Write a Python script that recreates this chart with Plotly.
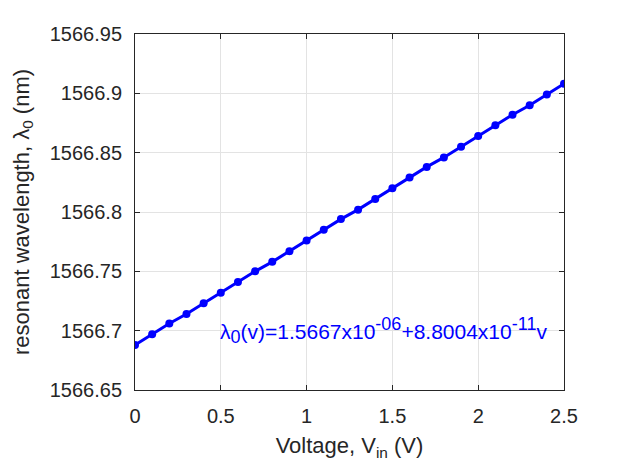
import plotly.graph_objects as go

voltage = [0.0, 0.1, 0.2, 0.3, 0.4, 0.5, 0.6, 0.7, 0.8, 0.9, 1.0, 1.1, 1.2,
           1.3, 1.4, 1.5, 1.6, 1.7, 1.8, 1.9, 2.0, 2.1, 2.2, 2.3, 2.4, 2.5]
wavelength = [1566.688, 1566.697, 1566.706, 1566.714, 1566.723, 1566.732,
              1566.741, 1566.750, 1566.758, 1566.767, 1566.776, 1566.785,
              1566.794, 1566.802, 1566.811, 1566.820, 1566.829, 1566.838,
              1566.846, 1566.855, 1566.864, 1566.873, 1566.882, 1566.890,
              1566.899, 1566.908]

x_ticks = [0, 0.5, 1, 1.5, 2, 2.5]
x_tick_labels = ["0", "0.5", "1", "1.5", "2", "2.5"]
y_ticks = [1566.65, 1566.7, 1566.75, 1566.8, 1566.85, 1566.9, 1566.95]
y_tick_labels = ["1566.65", "1566.7", "1566.75", "1566.8", "1566.85", "1566.9", "1566.95"]

sup_style = "font-size:18px"
fit_text = ("λ<sub><span style='%s'>0</span></sub>(v)=1.5667x10"
            "<sup><span style='%s'>-06</span></sup>+8.8004x10"
            "<sup><span style='%s'>-11</span></sup>v") % (sup_style, sup_style, sup_style)

font_family = "Liberation Sans, Arial, sans-serif"
axis_color = "#262626"

fig = go.Figure()
fig.add_trace(go.Scatter(
    x=voltage, y=wavelength, mode="lines+markers",
    line=dict(color="#0000ff", width=3),
    marker=dict(color="#0000ff", size=8),
    showlegend=False,
))

axis_common = dict(
    showline=True, linecolor=axis_color, linewidth=1, mirror="ticks",
    ticks="inside", ticklen=5, tickcolor=axis_color,
    showgrid=True, gridcolor="#e3e3e3", gridwidth=1,
    zeroline=False,
    tickfont=dict(family=font_family, size=20, color=axis_color),
)

fig.update_xaxes(
    range=[0, 2.5], tickvals=x_ticks, ticktext=x_tick_labels,
    ticklabelstandoff=8,
    title=dict(text="Voltage, V<sub>in</sub> (V)",
               font=dict(family=font_family, size=22, color=axis_color), standoff=11),
    **axis_common,
)
fig.update_yaxes(
    range=[1566.65, 1566.95], tickvals=y_ticks, ticktext=y_tick_labels,
    ticklabelstandoff=8,
    title=dict(text="resonant wavelength, λ<sub>0</sub> (nm)",
               font=dict(family=font_family, size=22, color=axis_color), standoff=14),
    **axis_common,
)

fig.add_annotation(
    x=0.485, y=1566.7, xref="x", yref="y", text=fit_text, showarrow=False,
    xanchor="left", yanchor="middle",
    font=dict(family=font_family, size=21, color="#0000ff"),
)

fig.update_layout(
    width=615, height=459,
    margin=dict(l=121, r=59, t=26, b=77),
    plot_bgcolor="white", paper_bgcolor="white",
)

fig.write_html("out.html")
